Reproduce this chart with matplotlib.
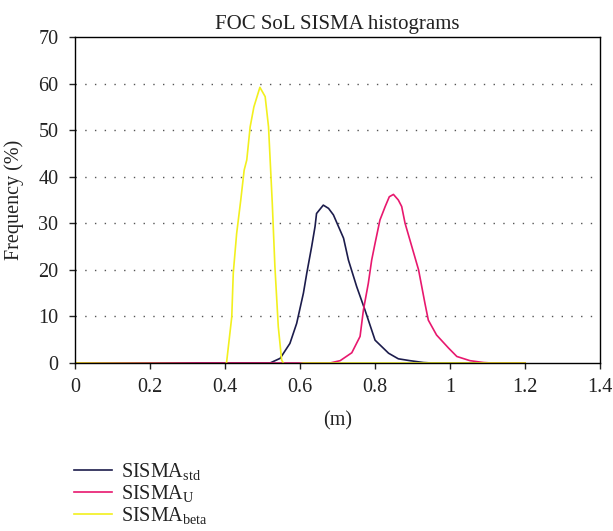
import numpy as np
import matplotlib.pyplot as plt

plt.rcParams['font.family'] = ['Liberation Serif', 'DejaVu Serif']
plt.rcParams['mathtext.fontset'] = 'custom'
plt.rcParams['mathtext.rm'] = 'Liberation Serif'
plt.rcParams['mathtext.it'] = 'Liberation Serif'

# =========================
# DATA
# =========================
x_std = [0.0, 0.52, 0.547, 0.573, 0.591, 0.609, 0.618, 0.631, 0.64, 0.644, 0.662,
         0.676, 0.689, 0.716, 0.729, 0.751, 0.773, 0.8, 0.836, 0.862, 0.893,
         0.929, 0.95, 1.2]
y_std = [0.0, 0.0, 1.0, 4.2, 8.5, 15.0, 19.3, 25.0, 29.3, 32.1, 33.9,
         33.2, 31.8, 26.8, 22.1, 16.4, 11.4, 4.9, 2.1, 0.9, 0.5,
         0.1, 0.0, 0.0]

x_u = [0.0, 0.68, 0.707, 0.738, 0.76, 0.769, 0.782, 0.791, 0.8, 0.813, 0.827,
       0.838, 0.849, 0.862, 0.871, 0.88, 0.898, 0.916, 0.933, 0.942, 0.964,
       0.996, 1.018, 1.053, 1.089, 1.11, 1.2]
y_u = [0.0, 0.0, 0.5, 2.2, 5.7, 11.4, 17.1, 22.1, 25.7, 30.7, 33.6,
       35.7, 36.2, 35.0, 33.6, 30.0, 25.0, 20.0, 12.8, 9.2, 6.0,
       3.2, 1.4, 0.5, 0.1, 0.0, 0.0]

x_beta = [0.0, 0.36, 0.387, 0.404, 0.418, 0.422, 0.431, 0.442, 0.451, 0.458,
          0.467, 0.477, 0.493, 0.507, 0.516, 0.526, 0.533, 0.542, 0.551,
          0.56, 0.596, 0.61, 1.2]
y_beta = [0.0, -0.2, -0.8, 0.0, 9.9, 19.3, 27.8, 35.0, 41.4, 43.6,
          50.7, 55.0, 59.2, 57.2, 50.7, 34.3, 20.7, 7.8, 0.6,
          -0.6, -0.2, 0.0, 0.0]

labels = [r'SISMA$_{\mathrm{std}}$', r'SISMA$_{\mathrm{U}}$', r'SISMA$_{\mathrm{beta}}$']
colors = ["#1c1c4c", "#e8186e", "#f2f01e"]

x_ticks = [0, 0.2, 0.4, 0.6, 0.8, 1, 1.2, 1.4]
y_ticks = [0, 10, 20, 30, 40, 50, 60, 70]

# =========================
# PLOT
# =========================
fig = plt.figure(figsize=(6.13, 5.31), dpi=100)
ax = fig.add_axes([0.1223, 0.3164, 0.8567, 0.6139])

# dotted horizontal grid
for yv in y_ticks[1:-1]:
    ax.axhline(yv, color="#555555", linestyle=(0, (1, 6)), linewidth=1.0, zorder=0)

ax.plot(x_std, y_std, color=colors[0], linewidth=1.2, label=labels[0])
ax.plot(x_u, y_u, color=colors[1], linewidth=1.2, label=labels[1])
ax.plot(x_beta, y_beta, color=colors[2], linewidth=1.2, label=labels[2])

ax.set_xlim(0, 1.4)
ax.set_ylim(0, 70)
ax.set_xticks(x_ticks)
ax.set_xticklabels([f"{v:g}" for v in x_ticks])
ax.set_yticks(y_ticks)
ax.tick_params(direction="out", length=4, width=1, labelsize=14.5, colors="#222222")
ax.tick_params(axis="x", pad=7)
ax.tick_params(axis="y", pad=8)

for s in ax.spines.values():
    s.set_linewidth(1.0)

ax.set_title("FOC SoL SISMA histograms", fontsize=15, pad=6, color="#222222")
ax.set_xlabel("(m)", fontsize=14.5, labelpad=10, color="#222222")
ax.set_ylabel("Frequency (%)", fontsize=14.5, labelpad=10, color="#222222")

fig.legend(loc="upper left", bbox_to_anchor=(0.108, 0.147), frameon=False,
           fontsize=14.5, handlelength=1.85, handletextpad=0.45, labelspacing=0.05,
           borderaxespad=0, labelcolor="#222222")

plt.savefig("out.png", dpi=100)
